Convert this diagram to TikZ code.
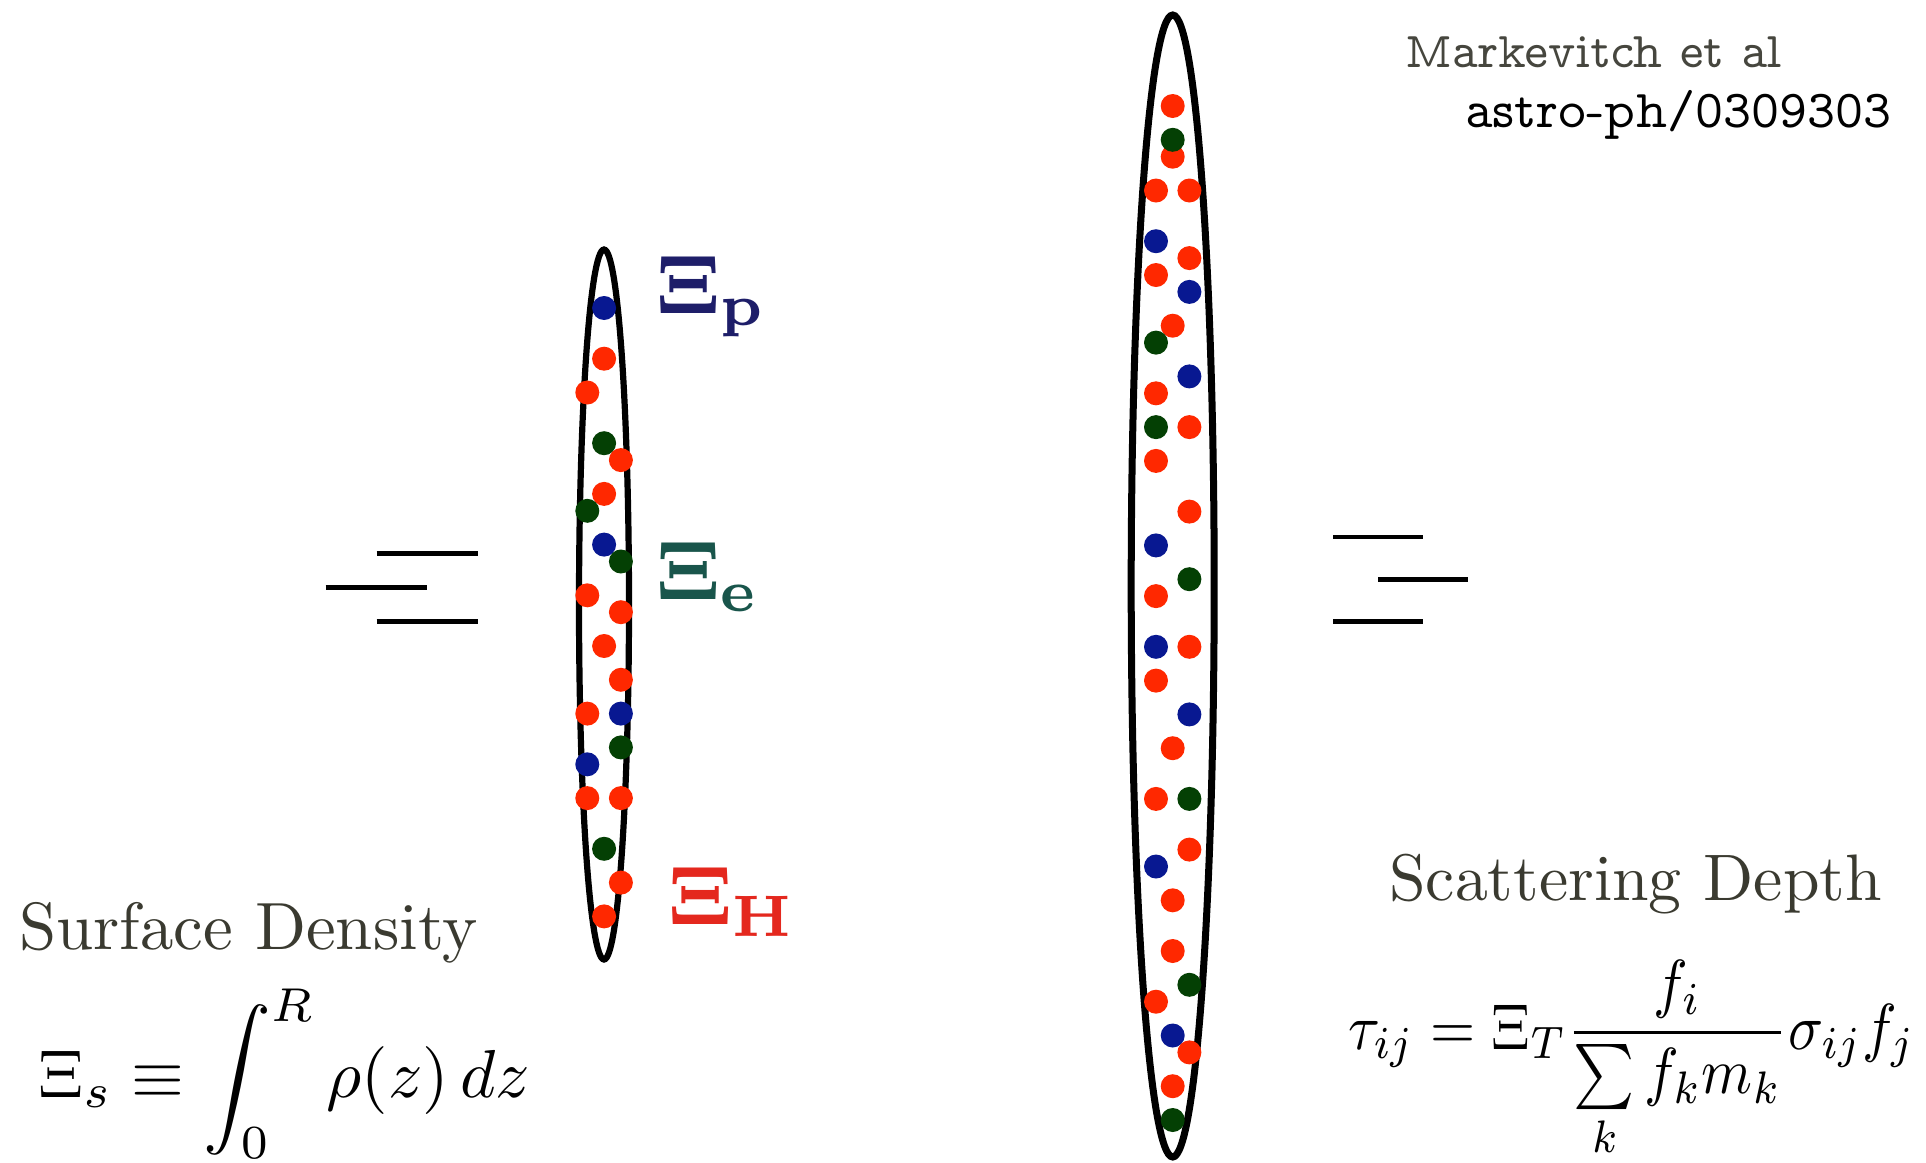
\documentclass[tikz,border=0pt]{standalone}
\usepackage{amsmath}
\definecolor{dotred}{RGB}{255,40,0}
\definecolor{dotblue}{RGB}{8,24,145}
\definecolor{dotgreen}{RGB}{4,64,4}
\definecolor{labp}{RGB}{30,30,105}
\definecolor{labe}{RGB}{25,85,75}
\definecolor{labh}{RGB}{228,40,30}
\definecolor{txtgray}{RGB}{58,58,48}
\definecolor{mkgray}{RGB}{70,70,62}
\tikzset{
  dred/.style={fill=dotred},
  dblue/.style={fill=dotblue},
  dgreen/.style={fill=dotgreen},
  flowline/.style={line width=0.45mm},
  xilabel/.style={inner sep=0pt, anchor=base west, scale=2.38},
  handtext/.style={inner sep=0pt, anchor=base west, text=txtgray},
  typetext/.style={inner sep=0pt, anchor=base west, font=\fontencoding{OT1}\fontfamily{cmvtt}\selectfont},
  formula/.style={inner sep=0pt, anchor=base west}
}
\begin{document}
\begin{tikzpicture}[x=0.01cm,y=-0.01cm]
\useasboundingbox (0,0) rectangle (1926,1163);
\fill[white] (0,0) rectangle (1926,1163);

% flow lines, left
\draw[flowline] (376.7,553.7) -- (477.7,553.7);
\draw[flowline] (325.7,587.7) -- (426.7,587.7);
\draw[flowline] (376.7,621.3) -- (477.7,621.3);
% flow lines, right
\draw[flowline] (1333.3,537) -- (1423.3,537);
\draw[flowline] (1378.3,579.3) -- (1468.3,579.3);
\draw[flowline] (1333.3,621.3) -- (1423.3,621.3);

% ellipses
\draw[line width=0.62mm] (604,604.5) ellipse [x radius=25, y radius=355];
\draw[line width=0.7mm] (1172.7,586) ellipse [x radius=41.5, y radius=571];

% left dots
\foreach \c/\col/\k in {dblue/1/0, dred/1/3, dred/0/5, dgreen/1/8, dred/2/9, dred/1/11, dgreen/0/12, dblue/1/14, dgreen/2/15, dred/0/17, dred/2/18, dred/1/20, dred/2/22, dred/0/24, dblue/2/24, dgreen/2/26, dblue/0/27, dred/0/29, dred/2/29, dgreen/1/32, dred/2/34, dred/1/36}
  \fill[\c] ({587.3+16.8*\col},{308+16.9*\k}) circle [radius=12];

% right dots
\foreach \c/\col/\k in {dred/1/0, dred/1/3, dgreen/1/2, dred/0/5, dred/2/5, dblue/0/8, dred/2/9, dred/0/10, dblue/2/11, dred/1/13, dgreen/0/14, dblue/2/16, dred/0/17, dgreen/0/19, dred/2/19, dred/0/21, dred/2/24, dblue/0/26, dgreen/2/28, dred/0/29, dblue/0/32, dred/2/32, dred/0/34, dblue/2/36, dred/1/38, dred/0/41, dgreen/2/41, dred/2/44, dblue/0/45, dred/1/47, dred/1/50, dgreen/2/52, dred/0/53, dblue/1/55, dred/2/56, dred/1/58, dgreen/1/60}
  \fill[\c] ({1156+16.7*\col},{106+16.9*\k}) circle [radius=12];

% species labels
\node[xilabel, text=labp] (xip) at (655,313) {$\mathbf{\Xi_p}$};
\node[xilabel, text=labe] (xie) at (655,599) {$\mathbf{\Xi_e}$};
\node[xilabel, text=labh] (xih) at (667,924) {$\mathbf{\Xi_H}$};

% reference
\node[typetext, scale=1.43, text=mkgray] (mk) at (1404,67) {Markevitch et al};
\node[typetext, scale=1.52, text=black] (ap) at (1464,127) {astro-ph/0309303};

% captions
\node[handtext, scale=1.9] (sd) at (18,949) {Surface Density};
\node[handtext, scale=1.87] (scd) at (1388,900) {Scattering Depth};

% formulas
\node[formula, scale=1.93] (surf) at (37,1097) {$\displaystyle \Xi_s \equiv \int_0^R \rho(z)\,dz$};
\node[formula, xscale=1.65, yscale=1.85] (tau) at (1347,1049) {$\displaystyle \tau_{ij} = \Xi_T \frac{f_i}{\sum\limits_k f_k m_k}\sigma_{ij} f_j$};
\end{tikzpicture}
\end{document}
